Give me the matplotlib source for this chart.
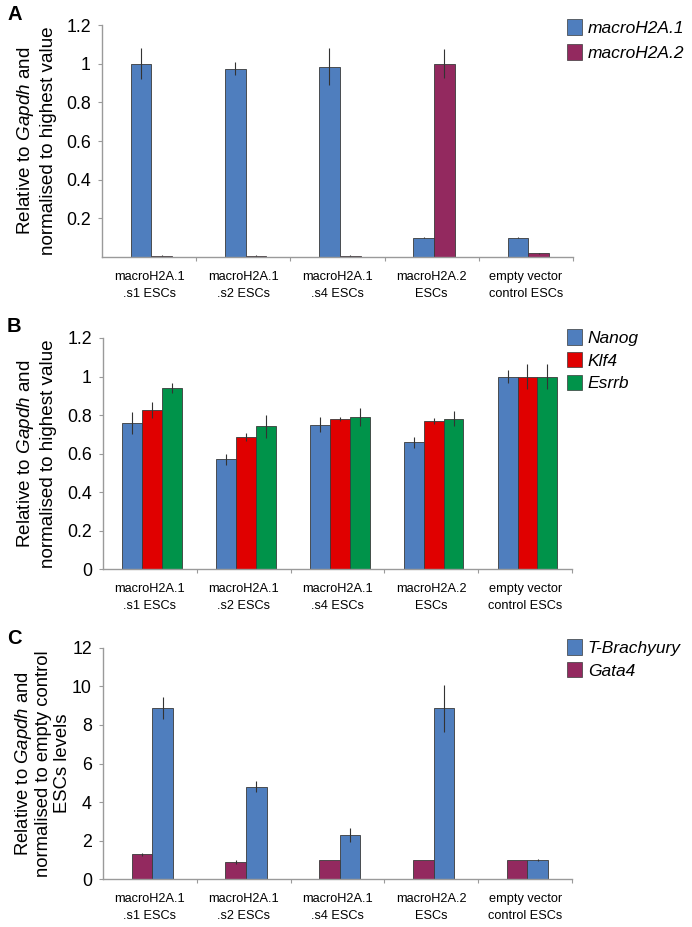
import matplotlib
matplotlib.use("Agg")
import matplotlib.pyplot as plt
from matplotlib.patches import Patch
import numpy as np

plt.rcParams['font.family'] = ['Liberation Sans', 'DejaVu Sans']
plt.rcParams['mathtext.fontset'] = 'custom'
plt.rcParams['mathtext.rm'] = 'Liberation Sans'
plt.rcParams['mathtext.it'] = 'Liberation Sans:italic'

categories = ["macroH2A.1\n.s1 ESCs", "macroH2A.1\n.s2 ESCs", "macroH2A.1\n.s4 ESCs",
              "macroH2A.2\nESCs", "empty vector\ncontrol ESCs"]

# Panel A
mh21 = [1.0, 0.975, 0.985, 0.10, 0.10]
mh21_err = [0.08, 0.035, 0.095, 0.003, 0.003]
mh22 = [0.006, 0.006, 0.006, 1.0, 0.02]
mh22_err = [0.002, 0.002, 0.002, 0.075, 0.002]

# Panel B
nanog = [0.76, 0.571, 0.75, 0.658, 1.0]
nanog_err = [0.056, 0.028, 0.038, 0.027, 0.035]
klf4 = [0.826, 0.686, 0.781, 0.77, 1.0]
klf4_err = [0.04, 0.02, 0.01, 0.015, 0.065]
esrrb = [0.94, 0.741, 0.79, 0.781, 1.0]
esrrb_err = [0.025, 0.058, 0.045, 0.038, 0.065]

# Panel C
gata4 = [1.3, 0.88, 1.0, 1.0, 1.0]
gata4_err = [0.08, 0.1, 0.0, 0.0, 0.0]
tbra = [8.85, 4.8, 2.28, 8.85, 1.0]
tbra_err = [0.57, 0.29, 0.36, 1.2, 0.05]

BLUE = '#4F7EBE'
MAG = '#93295F'
RED = '#E00000'
GREEN = '#00934A'
EDGE = '#3a3a3a'
SPINE = '#9a9a9a'

W, H = 692, 927
fig = plt.figure(figsize=(W / 100, H / 100), dpi=100)

def ax_at(l, r, top, bot):
    return fig.add_axes([l / W, 1 - bot / H, (r - l) / W, (bot - top) / H])

def style(ax, ymax, yticks, yticklabels):
    n = len(categories)
    ax.set_xlim(0, n)
    ax.set_ylim(0, ymax)
    for s in ['top', 'right']:
        ax.spines[s].set_visible(False)
    for s in ['left', 'bottom']:
        ax.spines[s].set_color(SPINE)
        ax.spines[s].set_linewidth(1.0)
    ax.set_yticks(yticks)
    ax.set_yticklabels(yticklabels, fontsize=12.8)
    ax.tick_params(axis='y', direction='out', length=3, color=SPINE, pad=5)
    ax.set_xticks(np.arange(1, n + 1))
    ax.set_xticklabels([])
    ax.tick_params(axis='x', which='major', direction='out', length=3, color=SPINE)
    ax.set_xticks(np.arange(n) + 0.5, minor=True)
    ax.set_xticklabels(categories, minor=True, fontsize=9.2, linespacing=1.55)
    ax.tick_params(axis='x', which='minor', length=0, pad=10)

def bars(ax, series, errs, colors, width, offset=0.025):
    k = len(series)
    x0 = np.arange(len(categories)) + 0.5 + offset
    for i, (vals, err, c) in enumerate(zip(series, errs, colors)):
        xs = x0 + (i - (k - 1) / 2) * width
        ax.bar(xs, vals, width=width, color=c, edgecolor=EDGE, linewidth=0.6,
               yerr=err, error_kw=dict(ecolor='#333333', elinewidth=0.8, capsize=0), zorder=2)

def legend(ax, labels, colors, x, ytop, spacing):
    handles = [Patch(facecolor=c, edgecolor=EDGE, linewidth=0.5) for c in colors]
    ax.legend(handles, labels, loc='upper left', bbox_to_anchor=(x / W, 1 - ytop / H),
              bbox_transform=fig.transFigure, frameon=False,
              prop={'style': 'italic', 'size': 12.5}, handlelength=0.85, handleheight=1.0,
              handletextpad=0.35, borderpad=0, borderaxespad=0, labelspacing=spacing)

def ylabel(ax, text, x, ls, fs=13.6):
    pos = ax.get_position()
    fig.text(x / W, 0.5 * (pos.y0 + pos.y1), text, rotation=90, ha='center', va='center',
             multialignment='center', fontsize=fs, linespacing=ls)

# Panel A
axA = ax_at(102, 573, 25, 257)
bars(axA, [mh21, mh22], [mh21_err, mh22_err], [BLUE, MAG], 0.22)
style(axA, 1.2, [0.2, 0.4, 0.6, 0.8, 1.0, 1.2], ['0.2', '0.4', '0.6', '0.8', '1', '1.2'])
ylabel(axA, "Relative to $\\it{Gapdh}$ and\nnormalised to highest value", 36, 1.28)
legend(axA, ['macroH2A.1', 'macroH2A.2'], [BLUE, MAG], 567, 19, 0.5)

# Panel B
axB = ax_at(103, 572, 338, 569.3)
bars(axB, [nanog, klf4, esrrb], [nanog_err, klf4_err, esrrb_err], [BLUE, RED, GREEN], 0.212)
style(axB, 1.2, [0, 0.2, 0.4, 0.6, 0.8, 1.0, 1.2], ['0', '0.2', '0.4', '0.6', '0.8', '1', '1.2'])
ylabel(axB, "Relative to $\\it{Gapdh}$ and\nnormalised to highest value", 36, 1.28)
legend(axB, ['Nanog', 'Klf4', 'Esrrb'], [BLUE, RED, GREEN], 567, 329, 0.35)

# Panel C
axC = ax_at(103, 572, 647.7, 879.3)
bars(axC, [gata4, tbra], [gata4_err, tbra_err], [MAG, BLUE], 0.22)
style(axC, 12, [0, 2, 4, 6, 8, 10, 12], ['0', '2', '4', '6', '8', '10', '12'])
ylabel(axC, "Relative to $\\it{Gapdh}$ and\nnormalised to empty control\nESCs levels", 42, 1.08, 13.3)
handles = [Patch(facecolor=BLUE, edgecolor=EDGE, linewidth=0.5),
           Patch(facecolor=MAG, edgecolor=EDGE, linewidth=0.5)]
axC.legend(handles, ['T-Brachyury', 'Gata4'], loc='upper left',
           bbox_to_anchor=(567 / W, 1 - 639 / H), bbox_transform=fig.transFigure,
           frameon=False, prop={'style': 'italic', 'size': 12.5}, handlelength=0.85,
           handleheight=1.0, handletextpad=0.35, borderpad=0, borderaxespad=0, labelspacing=0.35)

for lbl, (x, y) in zip(['A', 'B', 'C'], [(15, 14), (14, 327), (14, 638)]):
    fig.text(x / W, 1 - y / H, lbl, fontsize=14.5, fontweight='bold', ha='center', va='center')

fig.savefig('out.png', dpi=100)
